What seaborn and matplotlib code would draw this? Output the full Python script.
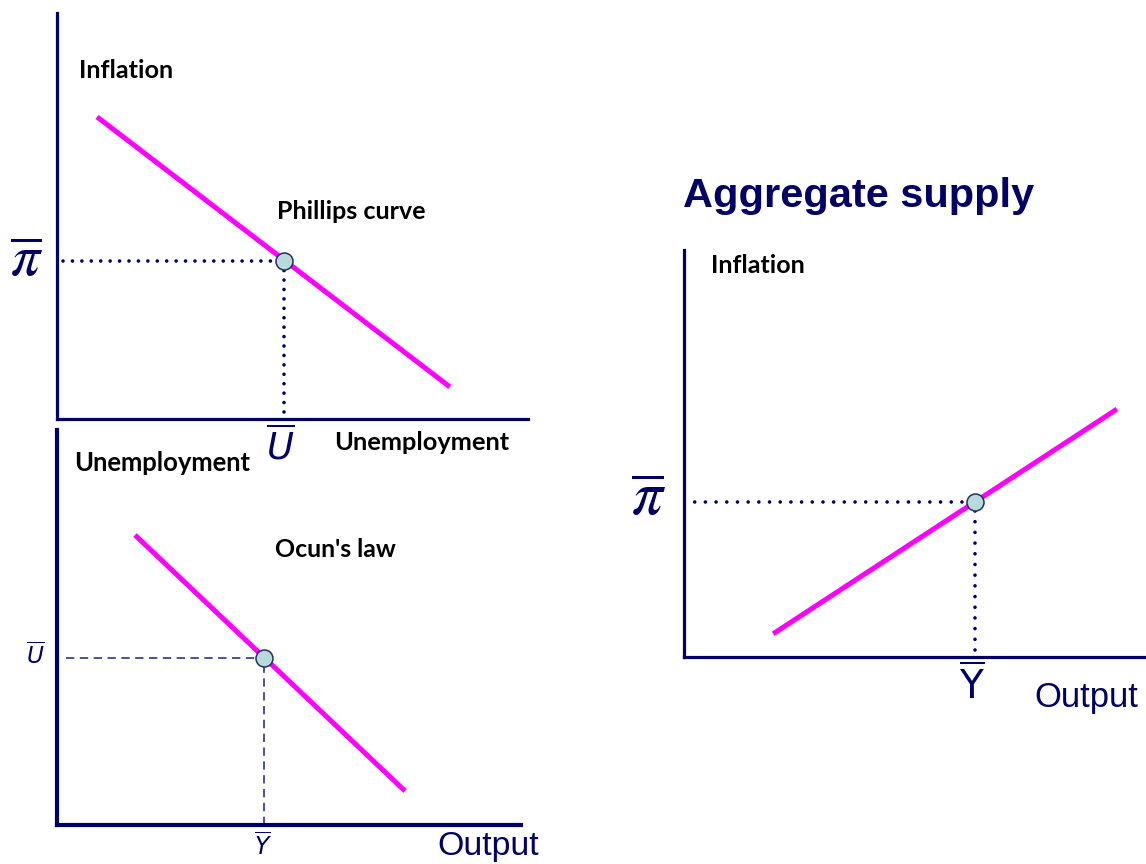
import matplotlib
matplotlib.use("Agg")
import matplotlib.pyplot as plt
import seaborn as sns
import pandas as pd

# ---------------- data (schematic curves, axes run 0..10) ----------------
phillips_unemployment = [0.85, 8.34]
phillips_inflation = [7.44, 0.79]
phillips_eq_u, phillips_eq_pi = 4.82, 3.90

okun_output = [1.68, 7.50]
okun_unemployment = [7.34, 0.86]
okun_eq_y, okun_eq_u = 4.46, 4.22

as_output = [1.93, 9.37]
as_inflation = [0.57, 6.09]
as_eq_y, as_eq_pi = 6.30, 3.82

# ---------------- style ----------------
sns.set_theme(style="white")
plt.rcParams["font.family"] = ["Lato", "DejaVu Sans"]

NAVY = "#000066"
MAGENTA = "#ff00ff"
POINT_FACE = "#b9dadb"
POINT_EDGE = "#22305f"

W, H = 1146, 864
fig = plt.figure(figsize=(W / 100, H / 100), dpi=100)
fig.patch.set_facecolor("white")


def add_axes(left, top, right, bottom):
    return fig.add_axes([left / W, 1 - bottom / H, (right - left) / W, (bottom - top) / H])


def style_axes(ax, lw):
    ax.set_xlim(0, 10)
    ax.set_ylim(0, 10)
    ax.set_xticks([])
    ax.set_yticks([])
    ax.set_xlabel("")
    ax.set_ylabel("")
    ax.patch.set_alpha(0)
    for side in ("top", "right"):
        ax.spines[side].set_visible(False)
    for side in ("left", "bottom"):
        sp = ax.spines[side]
        sp.set_visible(True)
        sp.set_color(NAVY)
        sp.set_linewidth(lw)
        sp.set_capstyle("projecting")


def draw_curve(ax, xs, ys):
    df = pd.DataFrame({"x": xs, "y": ys})
    sns.lineplot(data=df, x="x", y="y", ax=ax, color=MAGENTA, linewidth=3.6,
                 sort=False, solid_capstyle="butt", zorder=3)


def draw_point(ax, x, y):
    sns.scatterplot(x=[x], y=[y], ax=ax, s=150, color=POINT_FACE,
                    edgecolor=POINT_EDGE, linewidth=1.1, zorder=5)


fits = []


def ftext(x, y, s, width, ha="left", va="baseline", **kw):
    t = fig.text(x / W, 1 - y / H, s, ha=ha, va=va, **kw)
    fits.append((t, width))
    return t


dotted = dict(color=NAVY, linewidth=2.6, linestyle=(0, (0.01, 2.6)),
              dash_capstyle="round", zorder=2)
dotted3 = dict(color=NAVY, linewidth=2.6, linestyle=(0, (0.01, 2.95)),
               dash_capstyle="round", zorder=2)
dashed = dict(color="#2c3580", linewidth=1.2, linestyle=(0, (5.0, 3.3)), zorder=2)

# ---------------- panel 1: Phillips curve ----------------
ax1 = add_axes(57, 13, 528, 419)
style_axes(ax1, 2.3)
ax1.plot([0.13, phillips_eq_u], [phillips_eq_pi, phillips_eq_pi], **dotted)
ax1.plot([phillips_eq_u, phillips_eq_u], [0.17, phillips_eq_pi], **dotted)
draw_curve(ax1, phillips_unemployment, phillips_inflation)
draw_point(ax1, phillips_eq_u, phillips_eq_pi)

bold_lbl = dict(fontweight="bold", color="black", family=["Lato", "DejaVu Sans"])
ftext(79, 78, "Inflation", 94, **bold_lbl)
ftext(277, 219, "Phillips curve", 148, **bold_lbl)
ftext(334, 450, "Unemployment", 175, **bold_lbl)
ftext(26.5, 259.5, r"$\overline{\pi}$", 33, ha="center", va="center",
      color=NAVY, math_fontfamily="stix")
ftext(280.5, 445, r"$\overline{U}$", 29, ha="center", va="center",
      color=NAVY, math_fontfamily="dejavusans")

# ---------------- panel 2: Okun's law ----------------
ax2 = add_axes(57, 430, 521, 825)
style_axes(ax2, 3.0)
ax2.plot([0.19, okun_eq_y], [okun_eq_u, okun_eq_u], **dashed)
ax2.plot([okun_eq_y, okun_eq_y], [0.0, okun_eq_u], **dashed)
draw_curve(ax2, okun_output, okun_unemployment)
draw_point(ax2, okun_eq_y, okun_eq_u)

ftext(74, 471, "Unemployment", 176, **bold_lbl)
ftext(275, 557, "Ocun's law", 121, **bold_lbl)
ftext(35.5, 655, r"$\overline{U}$", 19, ha="center", va="center",
      color=NAVY, math_fontfamily="dejavusans")
ftext(263, 846, r"$\overline{Y}$", 18, ha="center", va="center",
      color=NAVY, math_fontfamily="dejavusans")
ftext(437, 855, "Output", 102, color=NAVY, family=["Liberation Sans", "DejaVu Sans"])

# ---------------- panel 3: Aggregate supply ----------------
ax3 = add_axes(684, 250, 1146, 657)
style_axes(ax3, 2.3)
ax3.plot([0.0, as_eq_y], [as_eq_pi, as_eq_pi], **dotted3)
ax3.plot([as_eq_y, as_eq_y], [0.17, as_eq_pi], **dotted3)
draw_curve(ax3, as_output, as_inflation)
draw_point(ax3, as_eq_y, as_eq_pi)

ftext(683, 207, "Aggregate supply", 351, color=NAVY, fontweight="bold",
      family=["Liberation Sans", "DejaVu Sans"])
ftext(711, 273, "Inflation", 93, **bold_lbl)
ftext(648.5, 497.5, r"$\overline{\pi}$", 35, ha="center", va="center",
      color=NAVY, math_fontfamily="stix")
ftext(972, 685, r"$\overline{\mathrm{Y}}$", 26, ha="center", va="center",
      color=NAVY, math_fontfamily="dejavusans")
ftext(1034, 707, "Output", 104, color=NAVY, family=["Liberation Sans", "DejaVu Sans"])

for ax in (ax1, ax2, ax3):
    leg = ax.get_legend()
    if leg is not None:
        leg.remove()

# fit label sizes to the widths measured on the reference
for _ in range(3):
    fig.canvas.draw()
    r = fig.canvas.get_renderer()
    for t, w in fits:
        bb = t.get_window_extent(r)
        if bb.width > 0:
            t.set_fontsize(t.get_fontsize() * w / bb.width)

fig.savefig("out.png", dpi=100, facecolor="white")
